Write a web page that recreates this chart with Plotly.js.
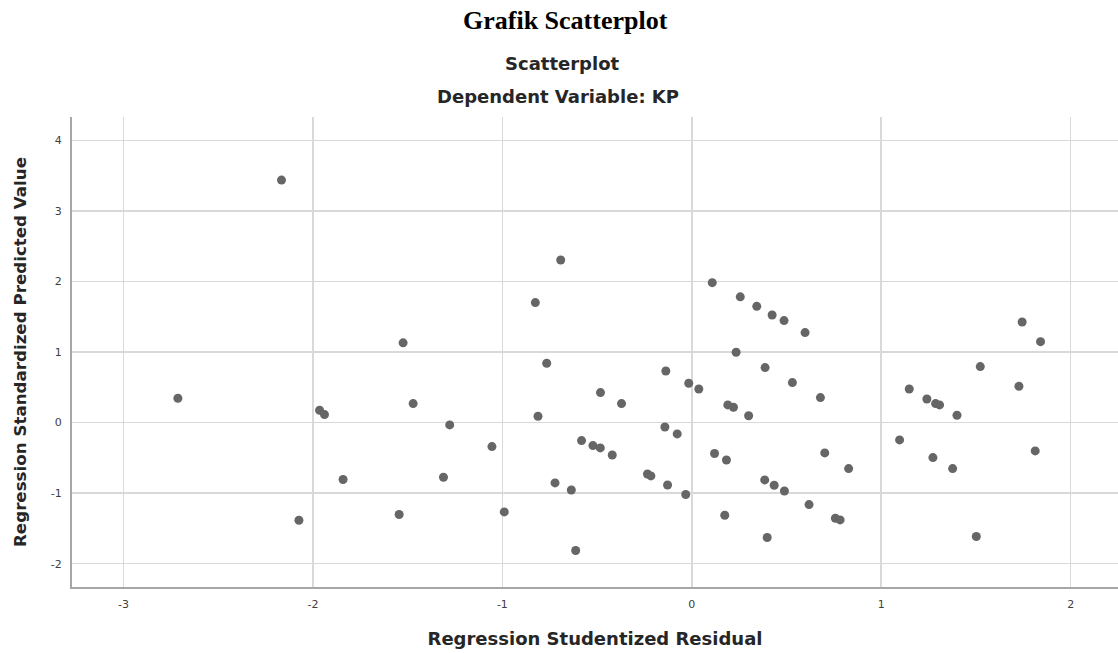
<!DOCTYPE html>
<html>
<head>
<meta charset="utf-8">
<script src="https://cdn.plot.ly/plotly-3.0.1.min.js"></script>
<style>
  html, body { margin: 0; padding: 0; background: #ffffff; }
  #chart { width: 1118px; height: 653px; }
</style>
</head>
<body>
<div id="chart"></div>
<script>
// Regression Studentized Residual (x)
const studentizedResidual = [
  -2.713, -2.166, -2.074, -1.965, -1.939, -1.841, -1.545, -1.524, -1.471, -1.311,
  -1.278, -1.055, -0.990, -0.826, -0.812, -0.766, -0.722, -0.692, -0.636, -0.613,
  -0.582, -0.522, -0.483, -0.482, -0.420, -0.371, -0.234, -0.216, -0.142, -0.137,
  -0.128, -0.077, -0.032, -0.016, 0.037, 0.108, 0.120, 0.174, 0.183, 0.190,
  0.220, 0.234, 0.256, 0.300, 0.343, 0.385, 0.387, 0.398, 0.424, 0.435,
  0.487, 0.489, 0.531, 0.598, 0.619, 0.679, 0.702, 0.758, 0.783, 0.828,
  1.097, 1.148, 1.241, 1.273, 1.287, 1.308, 1.377, 1.400, 1.502, 1.523,
  1.727, 1.744, 1.813, 1.841
];
// Regression Standardized Predicted Value (y)
const standardizedPredicted = [
  0.344, 3.436, -1.384, 0.174, 0.113, -0.807, -1.303, 1.130, 0.269, -0.775,
  -0.033, -0.340, -1.266, 1.700, 0.089, 0.840, -0.855, 2.303, -0.955, -1.813,
  -0.255, -0.326, -0.359, 0.425, -0.459, 0.269, -0.728, -0.756, -0.062, 0.731,
  -0.884, -0.161, -1.020, 0.557, 0.476, 1.983, -0.439, -1.313, -0.530, 0.250,
  0.217, 0.996, 1.782, 0.097, 1.647, -0.813, 0.779, -1.629, 1.524, -0.888,
  1.445, -0.969, 0.567, 1.275, -1.162, 0.354, -0.430, -1.356, -1.379, -0.652,
  -0.246, 0.476, 0.334, -0.496, 0.269, 0.250, -0.652, 0.103, -1.615, 0.793,
  0.514, 1.425, -0.402, 1.147
];
const xTickVals = [-3, -2, -1, 0, 1, 2];
const yTickVals = [-2, -1, 0, 1, 2, 3, 4];

const pageTitle = "Grafik Scatterplot";
const chartTitle = "Scatterplot";
const chartSubtitle = "Dependent Variable: KP";
const xTitle = "Regression Studentized Residual";
const yTitle = "Regression Standardized Predicted Value";

const sansBold = { family: "DejaVu Sans", size: 18, color: "#262626", weight: "bold" };
const sansBoldY = { family: "DejaVu Sans", size: 16.7, color: "#262626", weight: "bold" };

const trace = {
  type: "scatter",
  mode: "markers",
  x: studentizedResidual,
  y: standardizedPredicted,
  marker: { color: "#666666", size: 9, line: { width: 0 } },
  hoverinfo: "x+y"
};

const layout = {
  width: 1118,
  height: 653,
  paper_bgcolor: "#ffffff",
  plot_bgcolor: "#ffffff",
  showlegend: false,
  margin: { l: 72, r: 0, t: 117, b: 66, pad: 0 },
  xaxis: {
    range: [-3.272, 2.25],
    tickvals: xTickVals,
    ticktext: xTickVals.map(String),
    showgrid: true,
    gridcolor: "#d9d9d9",
    gridwidth: 1.5,
    zeroline: false,
    showline: true,
    linecolor: "#a6a6a6",
    linewidth: 2,
    ticks: "",
    ticklabelstandoff: 6,
    tickfont: { family: "DejaVu Sans", size: 11, color: "#404040" },
    title: { text: xTitle, font: sansBold, standoff: 22 },
    automargin: false
  },
  yaxis: {
    range: [-2.33, 4.33],
    tickvals: yTickVals,
    ticktext: yTickVals.map(String),
    showgrid: true,
    gridcolor: "#d9d9d9",
    gridwidth: 1.5,
    zeroline: false,
    showline: true,
    linecolor: "#a6a6a6",
    linewidth: 2,
    ticks: "",
    ticklabelstandoff: 6,
    tickfont: { family: "DejaVu Sans", size: 11, color: "#404040" },
    title: { text: yTitle, font: sansBoldY, standoff: 20 },
    automargin: false
  },
  annotations: [
    {
      text: "<b>" + pageTitle + "</b>",
      xref: "paper", yref: "paper",
      x: 0.4715, y: 1.205, xanchor: "center", yanchor: "middle",
      showarrow: false,
      font: { family: "Liberation Serif", size: 26, color: "#000000" }
    },
    {
      text: chartTitle,
      xref: "paper", yref: "paper",
      x: 0.4686, y: 1.1145, xanchor: "center", yanchor: "middle",
      showarrow: false,
      font: sansBold
    },
    {
      text: chartSubtitle,
      xref: "paper", yref: "paper",
      x: 0.4645, y: 1.0443, xanchor: "center", yanchor: "middle",
      showarrow: false,
      font: sansBold
    }
  ]
};

Plotly.newPlot("chart", [trace], layout, { displayModeBar: false, staticPlot: true });
</script>
</body>
</html>
